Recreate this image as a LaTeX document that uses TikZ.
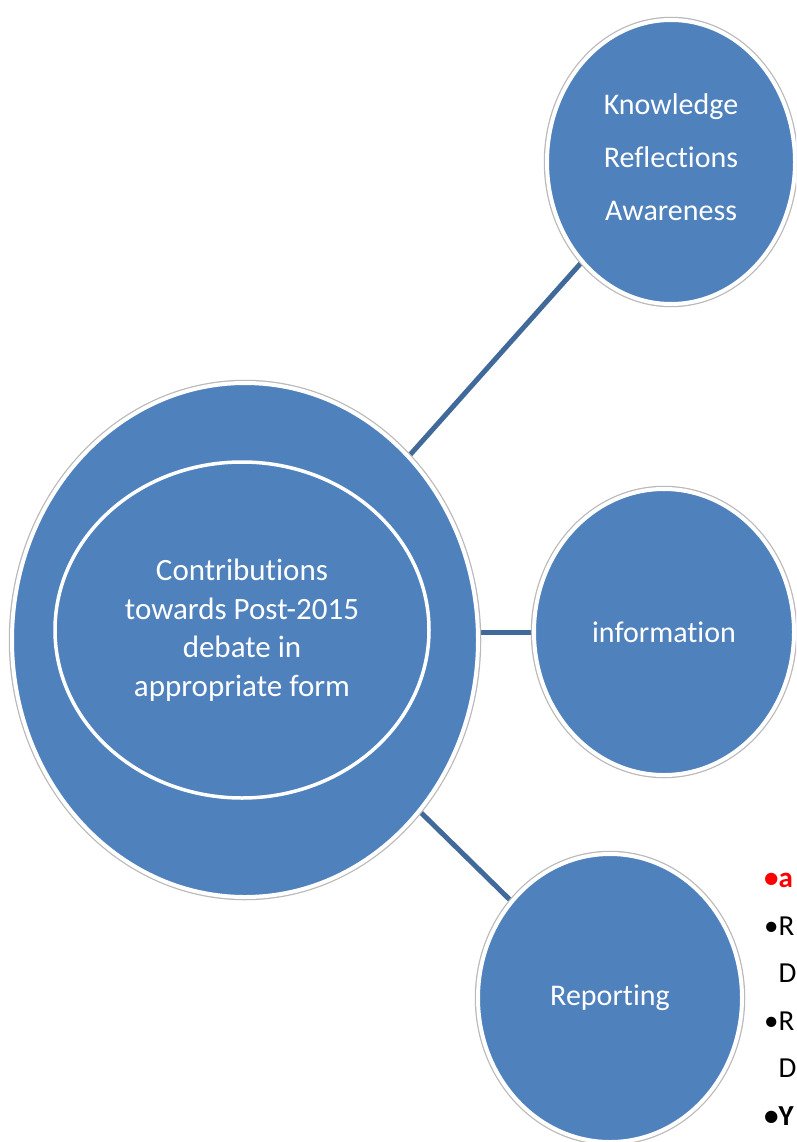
\documentclass[tikz,border=0pt]{standalone}
\usepackage{fontspec}
\setmainfont{Carlito}[Ligatures=CommonOff]
\usetikzlibrary{shapes.geometric,backgrounds}
\definecolor{bubblefill}{HTML}{4F81BD}
\definecolor{linkblue}{HTML}{41699A}
\tikzset{
  bubble/.style={ellipse,fill=bubblefill,draw=white,line width=4pt,inner sep=0pt,
    preaction={draw=gray!55,line width=6.5pt},text=white,align=center,
    font=\fontsize{30}{38}\selectfont},
  ring/.style={ellipse,draw=white,line width=3.5pt,inner sep=0pt,text=white,align=center,
    font=\fontsize{31}{38.5}\selectfont},
  link/.style={draw=linkblue,line width=5pt}
}
\begin{document}
\begin{tikzpicture}[x=1pt,y=-1pt]
    \useasboundingbox (0,0) rectangle (796,1142);
    \clip (0,0) rectangle (796,1142);
    % hub and the three satellites
    \node[bubble,minimum width=466pt,minimum height=514pt] (hub) at (245,640) {};
    \node[ring,minimum width=374pt,minimum height=336pt] (core) at (242,630)
        {Contributions\\towards Post-2015\\debate in\\appropriate form};
    \node[bubble,minimum width=248pt,minimum height=284pt] (know) at (671,162) {};
    \node[text=white,align=center,font=\fontsize{30}{53}\selectfont]
        (knowtext) at ([yshift=5pt]know.center) {Knowledge\\Reflections\\Awareness};
    \node[bubble,minimum width=260pt,minimum height=286pt] (info) at (664,632) {information};
    \node[bubble,minimum width=264pt,minimum height=288pt] (report) at (610,998) {Reporting};
    \begin{scope}[on background layer]
        \draw[link] (hub) -- (know);
        \draw[link] (info.west) -- (info.west -| hub.east);
        \draw[link] (hub) -- (report);
    \end{scope}
    % cut-off list at the right edge
    \node[anchor=north west,inner sep=0pt,align=left,font=\fontsize{29}{47.5}\selectfont]
        (notes) at (764,873) {\textcolor{red}{\textbf{•a}}\\•R\\\phantom{•}D\\•R\\\phantom{•}D\\\textbf{•Y}};
\end{tikzpicture}
\end{document}
